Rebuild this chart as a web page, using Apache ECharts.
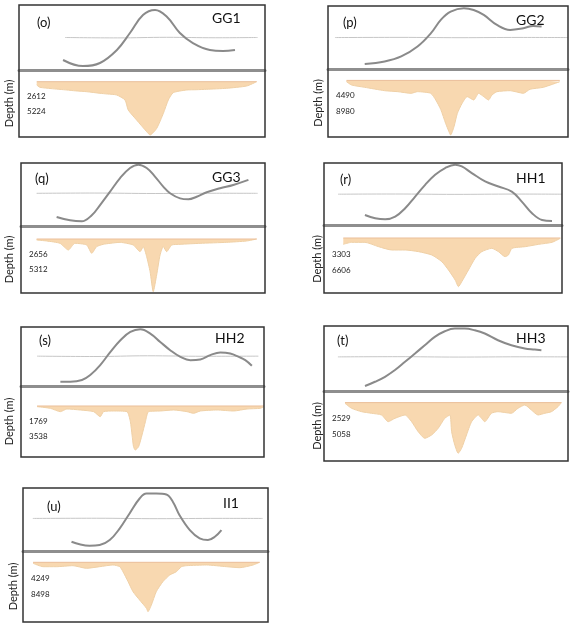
<!DOCTYPE html>
<html><head><meta charset="utf-8">
<script src="https://cdn.jsdelivr.net/npm/echarts@6/dist/echarts.min.js"></script>
<style>html,body{margin:0;padding:0;background:#fff}#c{width:570px;height:623px}</style>
</head><body><div id="c"></div><script>
// ---------- data ----------
const panelLetters = ['(o)','(p)','(q)','(r)','(s)','(t)','(u)'];
const wellNames = ['GG1','GG2','GG3','HH1','HH2','HH3','II1'];
const depthTicks = [[2612,5224],[4490,8980],[2656,5312],[3303,6606],[1769,3538],[2529,5058],[4249,8498]];
const depthRange = [[-2037,9630],[-3346,16612],[-2302,9562],[-2683,11352],[-2358,6013],[-1869,9408],[-3001,15856]];

const oCurveX = [17.9,26,32.9,39.8,45.1,50.4,55.3,60.2,65.4,70.7,77.6,82.9,87.8];
const oCurveY = [15.4,6,10.8,30.8,56.9,84.6,92.3,81.5,56.9,41.5,30.8,29.2,30.8];
const pCurveX = [15.3,23.6,30.5,37.3,42.9,47,51.1,56.6,60.7,64.9,70.4,75.9,81.4,85.5,89];
const pCurveY = [7.9,12,19.9,35.7,56.9,77.9,91,96.4,93.7,85.8,70,62.1,64.8,68.4,67.3];
const qCurveX = [14.6,20.1,24.9,29,32.4,36.5,40.6,44.7,48.1,51.5,54.9,58.3,61.1,65.2,68.6,72,76.1,81.6,87,93.2];
const qCurveY = [14.4,9.1,7.5,17.1,33.2,54.5,76,92,97.3,92,78.5,62.5,51.9,43.8,42.3,46.5,53.5,59.9,65.2,73.2];
const rCurveX = [17.2,21.5,25.7,29.9,34.1,38.3,42.5,46.7,50.9,55.1,57.9,62.1,67.7,73.3,78.9,83.1,87.4,91.6,95.8];
const rCurveY = [16.2,10.9,9.2,13.5,27.1,45.9,64.8,81,91.9,97.2,94.5,83.8,70.2,62.1,53.9,37.8,19,8.1,6.5];
const sCurveX = [16.2,20.3,25.1,28.5,32.6,36.8,40.9,45,49.1,53.2,57.3,61.4,65.6,69.7,73.8,77.9,82,86.1,89.6,92.3,95];
const sCurveY = [7.3,7.3,10.1,18.5,35.4,57.8,77.6,91.6,96.1,88.9,74.7,60.7,49.4,43.8,45,52.3,56.8,55.1,49.4,43.8,34.2];
const tCurveX = [16.8,20.9,25,29.1,33.2,37.3,41.3,45.4,49.5,53.6,57.7,61.8,65.9,71.3,76.8,82.3,86.4,89.1];
const tCurveY = [7.7,14.2,21.9,32.2,44.9,57.7,70.4,83.2,91.9,96,96,93.4,88.4,78.1,70.4,65.4,63.9,62.8];
const uCurveX = [19.8,23.1,27.2,31.3,35.4,39.5,43.5,47.6,50.4,54.4,58.5,61.2,63.9,68.1,72.1,75.5,78.3,81];
const uCurveY = [14.7,10.6,8.4,9.5,17.4,35.9,59.6,83.3,91.2,91.2,89.6,77.9,56.9,33.2,20.1,17.4,22.6,33.2];

const oRefX = [18.7,40,60,80,97];   const oRefY = [50,49.4,50.3,49.6,50];
const pRefX = [2.9,30,55,80,100];   const pRefY = [49.9,50.2,49.7,50.1,49.9];
const qRefX = [6.4,30,55,80,97];    const qRefY = [51.9,52.3,51.6,52,51.9];
const rRefX = [5.9,30,55,80,100];   const rRefY = [49.7,50,49.4,49.9,49.7];
const sRefX = [6.6,30,52,75,97.7];  const sRefY = [50.6,50,51.2,50.4,50.6];
const tRefX = [5.7,30,55,80,100];   const tRefY = [52.5,52.8,52.2,52.6,52.5];
const uRefX = [4,30,55,80,97.8];    const uRefY = [51.7,52,51.3,51.8,51.7];

const oDepthX = [7.2,8.5,13,19.4,23,27.5,32.9,36,39.7,43.1,44.4,47.8,51.9,53.3,56,58.7,60.7,62.7,68.2,72,76.3,84.4,92.6,96.6];
const oDepthV = [575,975,1200,1445,1600,1741,2020,2150,2316,3186,4927,6668,8705,9280,8113,5502,3186,1915,1445,1400,1323,1149,749,0];
const pDepthX = [7.7,9.8,15.3,23.6,29.1,34.6,37.3,42.8,44.9,47,49,50.4,51.1,52.5,53.9,55.9,58,60.7,62.8,64.9,66.9,68.3,70.4,75.9,81.4,84.2,89.7,96.6];
const pDepthV = [380,1350,2030,3020,3310,3790,3310,3790,5750,8570,12590,15060,16030,13590,9660,6720,4780,5750,3790,4780,5750,4300,3310,3020,3790,2600,2030,380];
const qDepthX = [6.4,10.5,16,19.4,22.1,26.9,29,31,33.7,36.5,40.6,43.3,46,48.8,50.1,51.5,52.9,54.2,55.6,57,58.3,59.7,61.8,65.2,73.4,84.3,92.5,96.6];
const qDepthV = [177,354,767,1947,767,1062,2537,1357,944,767,590,767,1062,2242,1357,3127,5782,9323,6372,2832,1357,2242,1062,944,767,590,354,0];
const rDepthX = [8.1,11.6,17.2,22.9,28.5,34.1,39.7,45.3,49.5,52.3,55.1,56.5,57.9,60.7,63.5,66.3,70.5,73.3,76.1,77.5,79,84.6,90.2,95.8,99.3];
const rDepthV = [1307,894,894,1789,2477,2477,2821,3509,4885,6605,8669,10045,9013,6605,4197,2821,2133,2821,3853,3509,2133,1789,1307,894,69];
const sDepthX = [6.6,12.1,16.2,18.9,24.4,29.9,32.6,34,38.1,43.6,45,45.7,46.3,47,48.4,49.8,51.2,52.5,57.3,62.8,68.3,71,73.8,80.7,87.5,93,98.5,100];
const sDepthV = [79,275,668,354,472,668,1258,668,590,668,1847,3419,4795,5188,4795,3419,1847,668,590,472,668,865,590,472,590,354,275,79];
const tDepthX = [8.6,11.3,15.4,19.5,23.6,26.3,29.1,33.2,35.9,38.6,41.3,44.1,46.8,49.5,51.6,52.3,53.6,55,56.4,58.4,60.5,63.2,65.9,68.6,71.3,76.8,79.5,82.3,85,87.7,90.5,93.2,95.9,97.3];
const tDepthV = [113,918,1466,1724,1998,3077,2529,1998,3077,4688,5751,5220,4140,2529,1998,4688,6831,8168,7362,5220,3077,1998,3077,1724,1466,1724,918,387,1190,1998,1724,1466,660,0];
const uDepthX = [4.1,8.2,13.6,20.4,25.9,31.3,36.7,39.5,40.8,42.9,44.9,47.6,50.4,51,52.4,54.4,57.1,59.9,62.6,64.7,66.7,74.9,83,88.5,93.9,96.6];
const uDepthV = [266,1169,1169,903,1594,1169,717,1169,2497,5153,7809,10013,12218,13120,11341,7809,5153,3373,2497,1169,903,717,1169,1434,717,0];

// ---------- layout (pixels) ----------
const boxes = [
  {l:19, r:265, t:5,   d:70,  b:137, ng:4, lx:37,  ly:23,  nx:212, ny:18},
  {l:328,r:568, t:6,   d:69,  b:137, ng:4, lx:343, ly:23,  nx:516, ny:20},
  {l:21, r:265, t:163, d:226, b:293, ng:6, lx:35,  ly:179, nx:212, ny:177},
  {l:324,r:562, t:163, d:225, b:293, ng:1, lx:340, ly:180, nx:516, ny:178},
  {l:21, r:264, t:327, d:386, b:457, ng:6, lx:39,  ly:341, nx:215, ny:338},
  {l:324,r:568, t:326, d:391, b:461, ng:1, lx:337, ly:341, nx:516, ny:338},
  {l:23, r:268, t:488, d:551, b:622, ng:4, lx:47,  ly:507, nx:223, ny:503}
];

const curves = [[oCurveX,oCurveY],[pCurveX,pCurveY],[qCurveX,qCurveY],[rCurveX,rCurveY],[sCurveX,sCurveY],[tCurveX,tCurveY],[uCurveX,uCurveY]];
const refs = [[oRefX,oRefY],[pRefX,pRefY],[qRefX,qRefY],[rRefX,rRefY],[sRefX,sRefY],[tRefX,tRefY],[uRefX,uRefY]];
const depths = [[oDepthX,oDepthV],[pDepthX,pDepthV],[qDepthX,qDepthV],[rDepthX,rDepthV],[sDepthX,sDepthV],[tDepthX,tDepthV],[uDepthX,uDepthV]];
const zip = (a,b) => a.map((v,i)=>[v,b[i]]);
const FONT = 'Lato, "Open Sans", sans-serif';

const option = {animation:false, grid:[], xAxis:[], yAxis:[], series:[], graphic:[]};
boxes.forEach((bx,i)=>{
  const w = bx.r - bx.l;
  const g0 = option.grid.length, g1 = g0+1, g2 = g0+2;
  // frame
  option.grid.push({left:bx.l, top:bx.t, width:w, height:bx.b-bx.t, show:true, borderColor:'#333', borderWidth:1.5, backgroundColor:'transparent', z:6});
  option.xAxis.push({gridIndex:g0, type:'value', min:0, max:1, show:false});
  option.yAxis.push({gridIndex:g0, type:'value', min:0, max:1, show:false});
  // upper curve panel
  option.grid.push({left:bx.l, top:bx.t, width:w, height:bx.d-bx.t});
  option.xAxis.push({gridIndex:g1, type:'value', min:0, max:100, axisLine:{show:true, onZero:false, lineStyle:{color:'#8e8e8e', width:3}}, axisTick:{show:false}, axisLabel:{show:false}, splitLine:{show:false}});
  option.yAxis.push({gridIndex:g1, type:'value', min:0, max:100, show:false});
  // lower depth panel
  option.grid.push({left:bx.l, top:bx.d, width:w, height:bx.b-bx.d});
  option.xAxis.push({gridIndex:g2, type:'value', min:0, max:100, show:false});
  option.yAxis.push({gridIndex:g2, type:'value', inverse:true, min:depthRange[i][0], max:depthRange[i][1],
    axisLine:{show:false}, axisTick:{show:false}, splitLine:{show:false},
    axisLabel:{inside:true, customValues:depthTicks[i], formatter:v=>String(v), fontSize:8, color:'#222', margin:8, fontFamily:FONT},
    name:'Depth (m)', nameLocation:'middle', nameGap:bx.ng, nameTextStyle:{fontSize:11, color:'#222', fontFamily:FONT}});

  option.series.push({type:'line', xAxisIndex:g1, yAxisIndex:g1, data:zip(refs[i][0],refs[i][1]), symbol:'none', smooth:0.4, lineStyle:{color:'#c6c6c6', width:1}, z:2});
  option.series.push({type:'line', xAxisIndex:g1, yAxisIndex:g1, data:zip(curves[i][0],curves[i][1]), symbol:'none', smooth:0.4, lineStyle:{color:'#8a8a8a', width:2}, z:3});
  const dx = depths[i][0];
  option.series.push({type:'line', xAxisIndex:g2, yAxisIndex:g2, data:zip(dx,depths[i][1]), symbol:'none', smooth:0.2,
    lineStyle:{color:'#efd0a6', width:1}, areaStyle:{color:'#f8d8b0', opacity:1}, z:2});
  option.series.push({type:'line', xAxisIndex:g2, yAxisIndex:g2, data:[[dx[0],0],[dx[dx.length-1],0]], symbol:'none',
    lineStyle:{color:'#ebbf9a', width:1}, z:3});

  option.graphic.push({type:'text', x:bx.lx, y:bx.ly, style:{text:panelLetters[i], fontSize:13, fontFamily:FONT, fill:'#111', verticalAlign:'middle'}, z:10});
  option.graphic.push({type:'text', x:bx.nx, y:bx.ny, style:{text:wellNames[i], fontSize:14, fontFamily:FONT, fill:'#111', verticalAlign:'middle'}, z:10});
});

const chart = echarts.init(document.getElementById('c'), null, {renderer:'canvas'});
chart.setOption(option);
</script></body></html>
